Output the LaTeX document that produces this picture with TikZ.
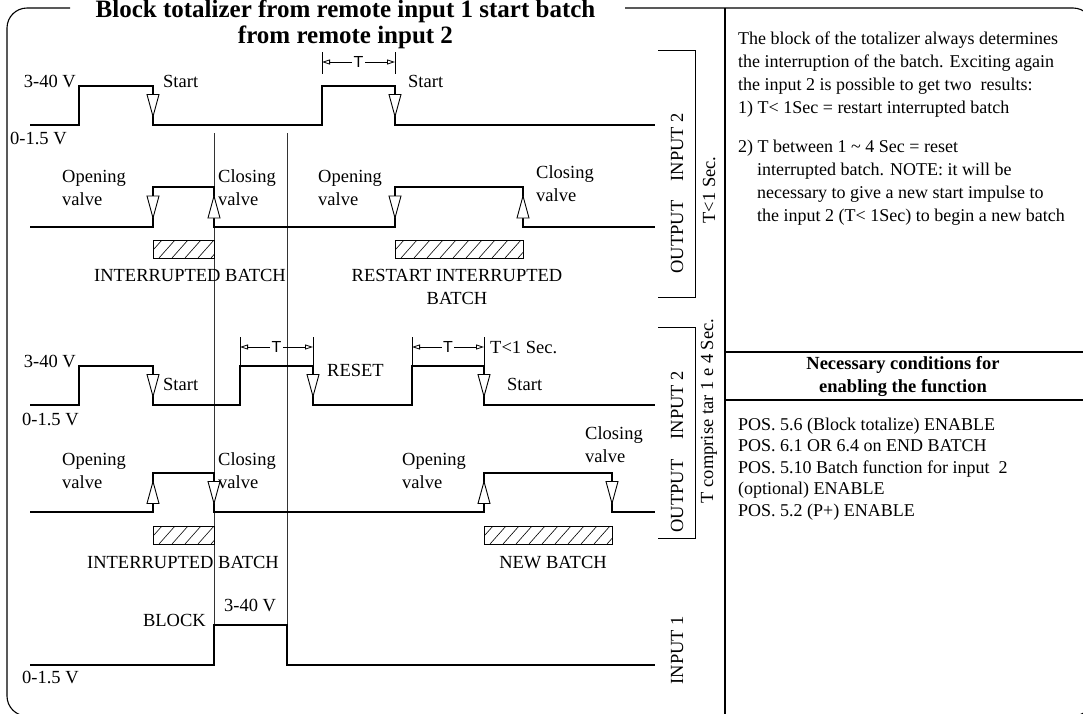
\documentclass[tikz,border=0pt]{standalone}
\usepackage{fontspec}
\setmainfont{Liberation Serif}
\newfontfamily\sansf{Liberation Sans}
\usetikzlibrary{arrows.meta}
\newcommand\lfont{\fontsize{18.5}{23}\selectfont}
\newcommand\rfont{\fontsize{18}{23}\selectfont}
\newcommand\tfont{\fontsize{25}{28}\selectfont}
\newcommand\mytri[3]{\draw[tri] ({#1-6},{#2-11*(#3)}) -- ({#1+6},{#2-11*(#3)}) -- (#1,{#2+11*(#3)}) -- cycle;}
\newcommand\hatchbox[4]{%
  \begin{scope}\clip (#1,#2) rectangle (#3,#4);
  \foreach \k in {-20,-7,...,140} \draw[line width=0.6pt] ({#1+\k},#4) -- ({#1+\k+16},#2);
  \end{scope}
  \draw[line width=0.8pt] (#1,#2) rectangle (#3,#4);}
\begin{document}
\begin{tikzpicture}[x=1pt,y=-1pt,
  sig/.style={line width=1.1pt},
  frm/.style={line width=1.1pt},
  guide/.style={line width=0.7pt, black!80},
  lbl/.style={font=\lfont, inner sep=0pt},
  bl/.style={font=\lfont\bfseries, inner sep=0pt},
  ttl/.style={font=\tfont\bfseries, inner sep=0pt},
  rot/.style={lbl, rotate=90, anchor=center},
  dim/.style={line width=0.8pt, {Triangle[open,length=8pt,width=5pt]}-{Triangle[open,length=8pt,width=5pt]}},
  tl/.style={font=\sansf\fontsize{16}{18}\selectfont, fill=white, inner sep=1.5pt},
  tick/.style={line width=0.8pt},
  tri/.style={line width=0.9pt, fill=white},
  brk/.style={line width=1pt},
]
\useasboundingbox (0,0) rectangle (1083,713);
\clip (0,0) rectangle (1083,713);
% frame
\draw[frm, rounded corners=20pt] (70,8) -- (7,8) -- (7,716) -- (1093,716) -- (1093,8) -- (625,8);
\node[ttl, anchor=base] (title1) at (345.5,17) {Block totalizer from remote input 1 start batch};
\node[ttl, anchor=base] (title2) at (345.5,43) {from remote input 2};
% right panel
\draw[frm] (725,8) -- (725,716);
\draw[frm] (725,352) -- (1093,352);
\draw[frm] (725,400) -- (1093,400);
% multi-line nodes: base anchor = baseline of the last line
\node[lbl, font=\rfont, align=left, anchor=base west] (note) at (738,221) {The block of the totalizer always determines\\the interruption of the batch. Exciting again\\the input 2 is possible to get two\ \ results:\\1) T< 1Sec = restart interrupted batch\\[16pt]2) T between 1 \textasciitilde{} 4 Sec = reset\\\hspace*{19pt}interrupted batch. NOTE: it will be\\\hspace*{19pt}necessary to give a new start impulse to\\\hspace*{19pt}the input 2 (T< 1Sec) to begin a new batch};
\node[bl, align=center, anchor=base] (cond) at (903,392) {Necessary conditions for\\enabling the function};
\node[lbl, align=left, anchor=base west, font=\fontsize{18}{21.5}\selectfont] (pos) at (738,516) {POS. 5.6 (Block totalize) ENABLE\\POS. 6.1 OR 6.4 on END BATCH\\POS. 5.10 Batch function for input\ \ 2\\(optional) ENABLE\\POS. 5.2 (P+) ENABLE};
% guides
\draw[guide] (214,133) -- (214,665);
\draw[guide] (287,133) -- (287,665);
% ---------- section 1: input 2
\draw[sig] (30,125) -- (79,125) -- (79,86) -- (153,86) -- (153,125) -- (322,125) -- (322,86) -- (395,86) -- (395,125) -- (655,125);
\mytri{153}{105.5}{1}
\mytri{395}{105.5}{1}
\draw[tick] (322,52) -- (322,74);
\draw[tick] (395,52) -- (395,74);
\draw[dim] (322,62) -- node[tl] (T1) {T} (395,62);
\node[lbl, anchor=base east] (v1h) at (76,87) {3-40 V};
\node[lbl, anchor=base west] (v1l) at (10,144) {0-1.5 V};
\node[lbl, anchor=base west] (st1) at (163,87) {Start};
\node[lbl, anchor=base west] (st2) at (408,87) {Start};
% section 1: output
\draw[sig] (30,227) -- (153,227) -- (153,187) -- (214,187) -- (214,227) -- (395,227) -- (395,187) -- (523,187) -- (523,227) -- (655,227);
\mytri{153}{207}{1}
\mytri{214}{207}{-1}
\mytri{395}{207}{1}
\mytri{523}{207}{-1}
\node[lbl, align=left, anchor=base west] (ov1) at (62,205) {Opening\\valve};
\node[lbl, align=left, anchor=base west] (cv1) at (218,205) {Closing\\valve};
\node[lbl, align=left, anchor=base west] (ov2) at (318,205) {Opening\\valve};
\node[lbl, align=left, anchor=base west] (cv2) at (536,201) {Closing\\valve};
\hatchbox{153}{240}{214}{258}
\hatchbox{395}{240}{523}{258}
\node[lbl, anchor=base] (ib1) at (190,281) {INTERRUPTED BATCH};
\node[lbl, align=center, anchor=base] (rib) at (457,304) {RESTART INTERRUPTED\\BATCH};
% ---------- section 2: input 2
\draw[sig] (30,405) -- (79,405) -- (79,366) -- (153,366) -- (153,405) -- (240,405) -- (240,366) -- (313,366) -- (313,405) -- (412,405) -- (412,366) -- (484,366) -- (484,405) -- (655,405);
\mytri{153}{385.5}{1}
\mytri{313}{385.5}{1}
\mytri{484}{385.5}{1}
\draw[tick] (240,337) -- (240,366);
\draw[tick] (313,337) -- (313,366);
\draw[tick] (412,337) -- (412,366);
\draw[tick] (484,337) -- (484,366);
\draw[dim] (240,347) -- node[tl] (T2) {T} (313,347);
\draw[dim] (412,347) -- node[tl] (T3) {T} (484,347);
\node[lbl, anchor=base east] (v2h) at (76,367) {3-40 V};
\node[lbl, anchor=base west] (v2l) at (22,425) {0-1.5 V};
\node[lbl, anchor=base west] (st3) at (163,390) {Start};
\node[lbl, anchor=base west] (rst) at (327,376) {RESET};
\node[lbl, anchor=base west] (tlt) at (490,353) {T<1 Sec.};
\node[lbl, anchor=base west] (st4) at (507,390) {Start};
% section 2: output
\draw[sig] (30,512) -- (153,512) -- (153,473) -- (214,473) -- (214,512) -- (484,512) -- (484,473) -- (612,473) -- (612,512) -- (655,512);
\mytri{153}{492.5}{-1}
\mytri{214}{492.5}{1}
\mytri{484}{492.5}{-1}
\mytri{612}{492.5}{1}
\node[lbl, align=left, anchor=base west] (ov3) at (62,488) {Opening\\valve};
\node[lbl, align=left, anchor=base west] (cv3) at (218,488) {Closing\\valve};
\node[lbl, align=left, anchor=base west] (ov4) at (402,488) {Opening\\valve};
\node[lbl, align=left, anchor=base west] (cv4) at (585,462) {Closing\\valve};
\hatchbox{153}{526}{214}{544}
\hatchbox{484}{526}{612}{544}
\node[lbl, anchor=base] (ib2) at (183,568) {INTERRUPTED BATCH};
\node[lbl, anchor=base] (nb) at (553,568) {NEW BATCH};
% ---------- input 1
\draw[sig] (30,665) -- (214,665) -- (214,625) -- (287,625) -- (287,665) -- (655,665);
\node[lbl, anchor=base east] (blk) at (206,626) {BLOCK};
\node[lbl, anchor=base west] (v3h) at (224,611) {3-40 V};
\node[lbl, anchor=base west] (v3l) at (22,683) {0-1.5 V};
% brackets and side labels
\draw[brk] (658,50) -- (695,50) -- (695,297) -- (658,297);
\draw[brk] (658,327) -- (695,327) -- (695,538) -- (658,538);
\node[rot] (in2a) at (677,147) {INPUT 2};
\node[rot] (outa) at (677,237) {OUTPUT};
\node[rot] (tsa) at (709,190) {T<1 Sec.};
\node[rot] (in2b) at (677,405) {INPUT 2};
\node[rot] (outb) at (677,496) {OUTPUT};
\node[rot] (in1) at (677,650) {INPUT 1};
\node[rot] (tsb) at (709,411) {T comprise tar 1 e 4 Sec.};
\end{tikzpicture}
\end{document}
